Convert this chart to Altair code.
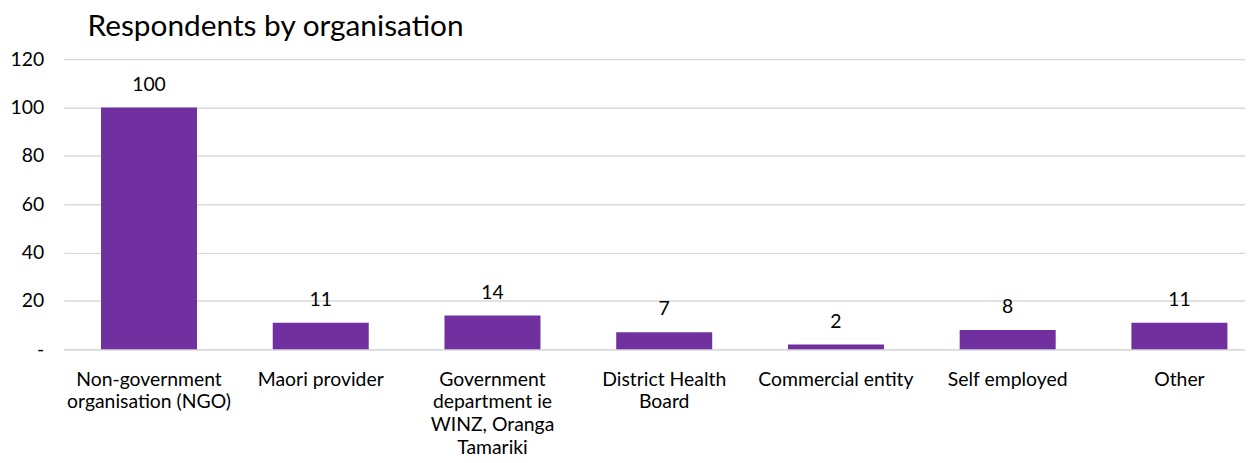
import altair as alt
import pandas as pd
import json

categories = [
    "Non-government organisation (NGO)",
    "Maori provider",
    "Government department ie WINZ, Oranga Tamariki",
    "District Health Board",
    "Commercial entity",
    "Self employed",
    "Other",
]
counts = [100, 11, 14, 7, 2, 8, 11]
wrapped_labels = [
    ["Non-government", "organisation (NGO)"],
    ["Maori provider"],
    ["Government", "department ie", "WINZ, Oranga", "Tamariki"],
    ["District Health", "Board"],
    ["Commercial entity"],
    ["Self employed"],
    ["Other"],
]
y_ticks = [0, 20, 40, 60, 80, 100, 120]

df = pd.DataFrame({"org": categories, "count": counts})
label_map = json.dumps(dict(zip(categories, wrapped_labels)))

FONT = "Lato"
TXT = "#000000"
FS = 19.5

base = alt.Chart(df).encode(
    x=alt.X(
        "org:N",
        sort=categories,
        title=None,
        scale=alt.Scale(paddingInner=0.441, paddingOuter=0.16, align=0.68),
        axis=alt.Axis(
            labelAngle=0,
            labelExpr=f"{label_map}[datum.label]",
            labelFont=FONT,
            labelFontSize=FS,
            labelColor=TXT,
            labelPadding=21,
            labelLineHeight=23,
            labelBaseline="top",
            labelLimit=300,
            ticks=False,
            domainColor="#d9d9d9",
            domainWidth=1.5,
            grid=False,
        ),
    ),
    y=alt.Y(
        "count:Q",
        title=None,
        scale=alt.Scale(domain=[0, 120], nice=False),
        axis=alt.Axis(
            values=y_ticks,
            labelExpr="datum.value == 0 ? '-' : datum.label",
            labelFont=FONT,
            labelFontSize=FS,
            labelColor=TXT,
            labelPadding=20,
            ticks=False,
            domain=False,
            gridColor="#d9d9d9",
            gridWidth=1.5,
        ),
    ),
)

bars = base.mark_bar(color="#7030A0")
labels = base.mark_text(
    dy=-13, baseline="bottom", font=FONT, fontSize=FS, color=TXT
).encode(text="count:Q")

chart = (
    (bars + labels)
    .properties(
        width=1189,
        height=292,
        autosize=alt.AutoSizeParams(type="none"),
        padding={"left": 56, "top": 50, "right": 0, "bottom": 110},
        title=alt.TitleParams(
            "Respondents by organisation",
            anchor="start",
            frame="group",
            dx=24,
            offset=7,
            font=FONT,
            fontSize=30,
            fontWeight="normal",
            color=TXT,
        ),
    )
    .configure_view(stroke=None)
)

chart.save("out.html", embed_options={"renderer": "svg", "actions": False})
